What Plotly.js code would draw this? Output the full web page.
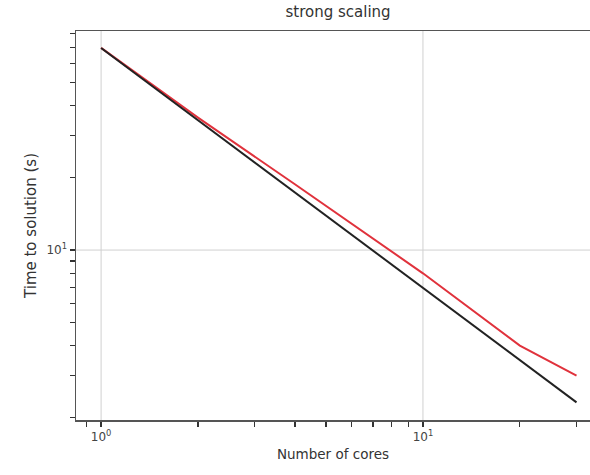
<!DOCTYPE html>
<html>
<head>
<meta charset="utf-8">
<script src="https://cdn.plot.ly/plotly-3.0.1.min.js"></script>
<style>html,body{margin:0;padding:0;background:#fff;}#chart{width:590px;height:475px;}</style>
</head>
<body>
<div id="chart"></div>
<script>
// Measured run (red)
const cores = [1, 2, 4, 8, 10, 20, 30];
const measuredTime = [69.5, 35.6, 18.8, 9.85, 8.0, 4.0, 3.0];
// Ideal scaling (black)
const idealCores = [1, 30];
const idealTime = [69.5, 2.32];
const xMajorTicks = [1, 10];
const xMajorText = ['10<sup>0</sup>', '10<sup>1</sup>'];
const yMajorTicks = [10];
const yMajorText = ['10<sup>1</sup>'];
const xMinorTicks = [0.9, 2, 3, 4, 5, 6, 7, 8, 9, 20, 30];
const yMinorTicks = [2, 3, 4, 5, 6, 7, 8, 9, 20, 30, 40, 50, 60, 70, 80];

const xRange = [-0.078, 1.519];
const yRange = [0.292, 1.9125];

const xTickVals = xMajorTicks.concat(xMinorTicks);
const xTickText = xMajorText.concat(xMinorTicks.map(() => ' '));
const yTickVals = yMajorTicks.concat(yMinorTicks);
const yTickText = yMajorText.concat(yMinorTicks.map(() => ' '));

const traces = [
  {x: cores, y: measuredTime, type: 'scatter', mode: 'lines',
   line: {color: '#e0323c', width: 2}, hoverinfo: 'skip', showlegend: false},
  {x: idealCores, y: idealTime, type: 'scatter', mode: 'lines',
   line: {color: '#222222', width: 2}, hoverinfo: 'skip', showlegend: false}
];

const gridShapes = [];
xMajorTicks.forEach(v => gridShapes.push({type: 'line', layer: 'below', xref: 'x', yref: 'paper',
  x0: v, x1: v, y0: 0, y1: 1, line: {color: '#d0d0d0', width: 1}}));
yMajorTicks.forEach(v => gridShapes.push({type: 'line', layer: 'below', xref: 'paper', yref: 'y',
  x0: 0, x1: 1, y0: v, y1: v, line: {color: '#d0d0d0', width: 1}}));

const FAM = 'DejaVu Sans, sans-serif';
const layout = {
  width: 590, height: 475,
  margin: {l: 76, r: 0, t: 31, b: 55},
  paper_bgcolor: '#fff', plot_bgcolor: '#fff',
  font: {family: FAM, color: '#333', size: 12},
  title: {text: 'strong scaling', xref: 'container', x: 0.573, xanchor: 'center',
          y: 0.975, yanchor: 'middle', font: {family: FAM, size: 15, color: '#333'}},
  shapes: gridShapes,
  xaxis: {
    type: 'log', range: xRange,
    tickmode: 'array', tickvals: xTickVals, ticktext: xTickText,
    ticks: 'outside', ticklen: 5, tickcolor: '#333', tickwidth: 1.3,
    showgrid: false,
    showline: true, linecolor: '#555', linewidth: 1.5, mirror: true,
    zeroline: false,
    tickfont: {family: FAM, size: 12, color: '#444'},
    title: {text: 'Number of cores', standoff: 6, font: {family: FAM, size: 13.5, color: '#333'}}
  },
  yaxis: {
    type: 'log', range: yRange,
    tickmode: 'array', tickvals: yTickVals, ticktext: yTickText,
    ticks: 'outside', ticklen: 5, tickcolor: '#333', tickwidth: 1.3,
    showgrid: false,
    showline: true, linecolor: '#555', linewidth: 1.5, mirror: false,
    zeroline: false,
    tickfont: {family: FAM, size: 12, color: '#444'},
    title: {text: 'Time to solution (s)', standoff: 6, font: {family: FAM, size: 15, color: '#333'}}
  }
};

Plotly.newPlot('chart', traces, layout, {staticPlot: true, displayModeBar: false});
</script>
</body>
</html>
